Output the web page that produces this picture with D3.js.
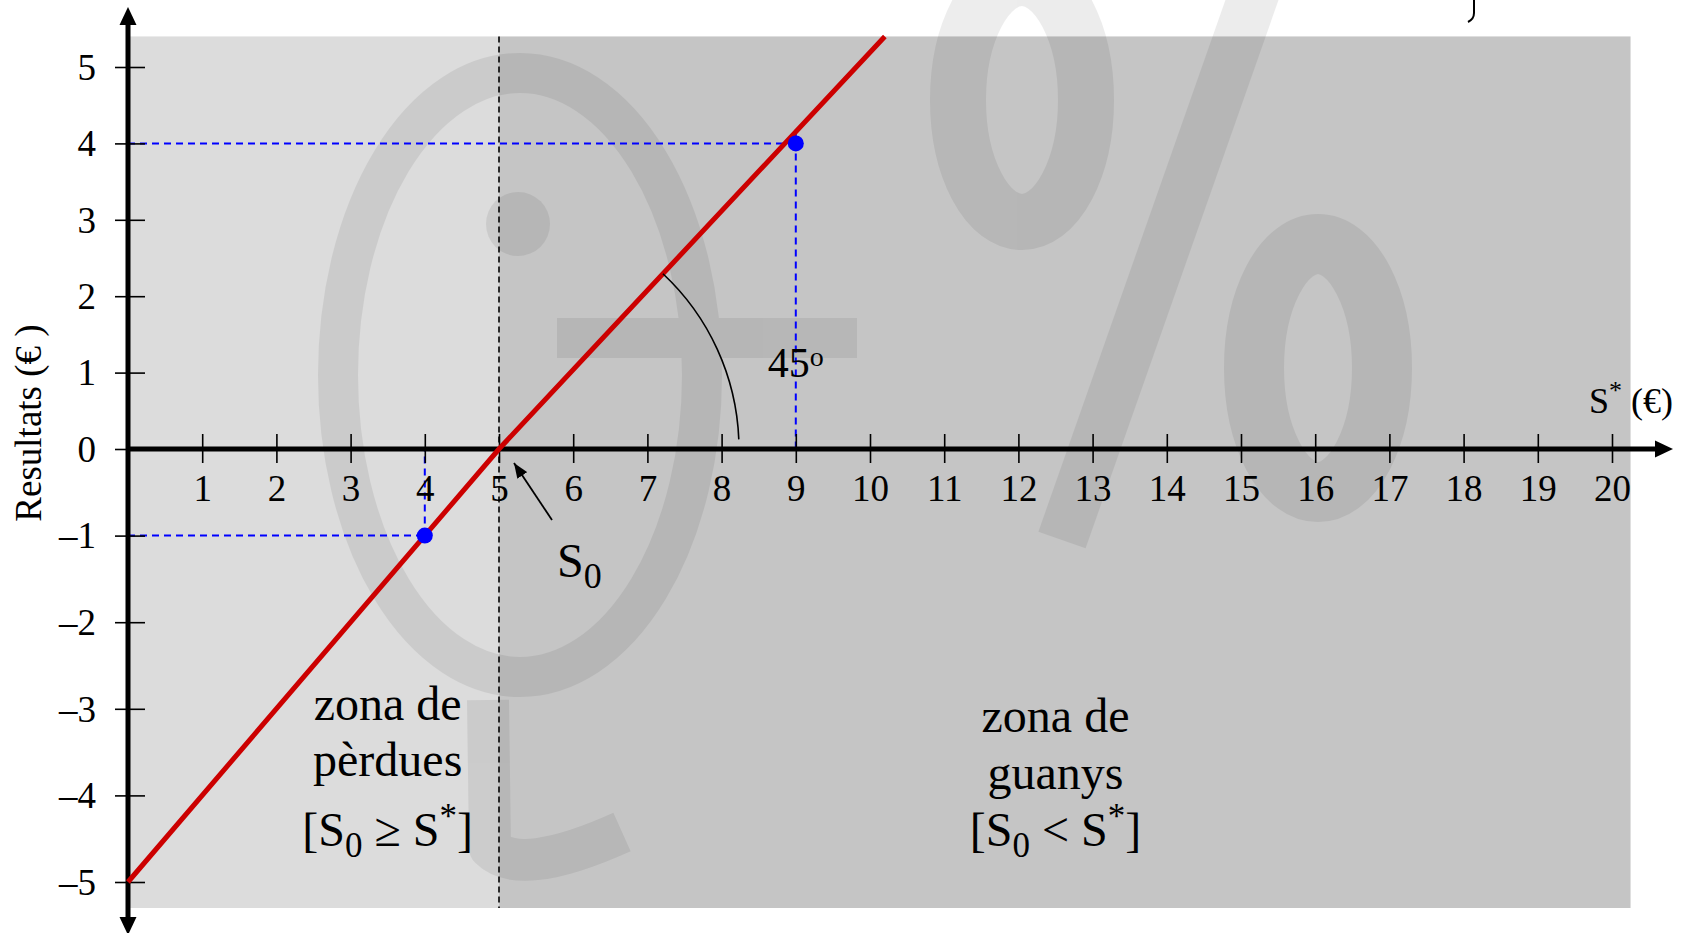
<!DOCTYPE html>
<html>
<head>
<meta charset="utf-8">
<script src="https://cdn.jsdelivr.net/npm/d3@7"></script>
<style>
  html, body { margin: 0; padding: 0; background: #fff; }
  svg { display: block; }
  text { font-family: "Liberation Serif", "Times New Roman", serif; fill: #000; }
</style>
</head>
<body>
<svg id="chart" width="1684" height="933"></svg>
<script>
// Break-even diagram: result of a position as a function of the price S*
const xTickValues = [1, 2, 3, 4, 5, 6, 7, 8, 9, 10, 11, 12, 13, 14, 15, 16, 17, 18, 19, 20];
const yTickValues = [-5, -4, -3, -2, -1, 0, 1, 2, 3, 4, 5];
const yTickLabels = ["\u20135", "\u20134", "\u20133", "\u20132", "\u20131", "0", "1", "2", "3", "4", "5"];

const breakEven = 5;                 // S0
const resultS = [0, 5, 10.2];        // S* along the result line
const resultValue = [-5, 0, 5.4];    // result at those prices
const markedS = [4, 9];              // highlighted prices
const markedValue = [-1, 4];         // result at the highlighted prices

const lossLines = ["zona de", "p\u00e8rdues"];
const gainLines = ["zona de", "guanys"];

const svg = d3.select("#chart");

// scales
const x = d3.scaleLinear().domain([0, 20]).range([128, 1612]);
const y = d3.scaleLinear().domain([-5, 0, 5]).range([882, 449, 67]);
const xEnd = 20.25, yTop = 5.4, yBottom = -5.3;

// shaded zones
svg.append("rect")
  .attr("x", x(0)).attr("y", y(yTop))
  .attr("width", x(breakEven) - x(0)).attr("height", y(yBottom) - y(yTop))
  .attr("fill", "#dcdcdc");
svg.append("rect")
  .attr("x", x(breakEven)).attr("y", y(yTop))
  .attr("width", x(xEnd) - x(breakEven)).attr("height", y(yBottom) - y(yTop))
  .attr("fill", "#c5c5c5");

// faint background emblem
const emblem = svg.append("g").attr("opacity", 0.07).attr("fill", "none").attr("stroke", "#000");
emblem.append("ellipse").attr("cx", 520).attr("cy", 375).attr("rx", 182).attr("ry", 302).attr("stroke-width", 40);
emblem.append("circle").attr("cx", 518).attr("cy", 224).attr("r", 32).attr("fill", "#000").attr("stroke", "none");
emblem.append("rect").attr("x", 557).attr("y", 318).attr("width", 300).attr("height", 40).attr("fill", "#000").attr("stroke", "none");
emblem.append("path").attr("d", "M488,700 L490,848 Q520,878 622,832")
  .attr("stroke-width", 42).attr("stroke-linejoin", "round");
emblem.append("ellipse").attr("cx", 1022).attr("cy", 100).attr("rx", 64).attr("ry", 122).attr("stroke-width", 56);
emblem.append("line").attr("x1", 1259).attr("y1", -20).attr("x2", 1062).attr("y2", 540).attr("stroke-width", 50);
emblem.append("ellipse").attr("cx", 1318).attr("cy", 368).attr("rx", 64).attr("ry", 124).attr("stroke-width", 60);

// S0 divider
svg.append("line")
  .attr("x1", x(breakEven)).attr("x2", x(breakEven))
  .attr("y1", y(yTop)).attr("y2", y(yBottom))
  .attr("stroke", "#000").attr("stroke-width", 1.6).attr("stroke-dasharray", "6,4");

// guide lines for the highlighted points
const guides = svg.append("g").attr("stroke", "#0000ff").attr("stroke-width", 2)
  .attr("stroke-dasharray", "7,5").attr("fill", "none");
markedS.forEach((s, i) => {
  const v = markedValue[i];
  guides.append("line").attr("x1", x(0)).attr("x2", x(s)).attr("y1", y(v)).attr("y2", y(v));
  guides.append("line").attr("x1", x(s)).attr("x2", x(s))
    .attr("y1", y(v) - (v > 0 ? 14 : 0)).attr("y2", y(0));
});

// x axis ticks and labels
const xAxis = svg.append("g")
  .attr("transform", `translate(0,${y(0)})`)
  .call(d3.axisBottom(x).tickValues(xTickValues).tickSize(0).tickFormat(d3.format("d")));
xAxis.select(".domain").remove();
xAxis.attr("font-family", "Liberation Serif, serif").attr("font-size", 37);
xAxis.selectAll(".tick line").attr("y1", -15).attr("y2", 14).attr("stroke", "#000").attr("stroke-width", 1.6);
xAxis.selectAll(".tick text").attr("y", 52).attr("dy", 0).attr("fill", "#000");

// y axis ticks and labels
const yAxis = svg.append("g")
  .attr("transform", `translate(${x(0)},0)`)
  .call(d3.axisLeft(y).tickValues(yTickValues).tickSize(0)
    .tickFormat((d, i) => yTickLabels[i]));
yAxis.select(".domain").remove();
yAxis.attr("font-family", "Liberation Serif, serif").attr("font-size", 37);
yAxis.selectAll(".tick line").attr("x1", -13).attr("x2", 17).attr("stroke", "#000").attr("stroke-width", 1.6);
yAxis.selectAll(".tick text").attr("x", -32).attr("dy", "0.33em").attr("fill", "#000");

// heavy axis lines with arrowheads
const axisW = 5;
const xTip = 1673, yTipTop = 7, yTipBottom = 935;
svg.append("line").attr("x1", x(0)).attr("x2", xTip - 14).attr("y1", y(0)).attr("y2", y(0))
  .attr("stroke", "#000").attr("stroke-width", axisW);
svg.append("path").attr("d", `M${xTip - 18},${y(0) - 8.5} L${xTip},${y(0)} L${xTip - 18},${y(0) + 8.5} Z`).attr("fill", "#000");
svg.append("line").attr("x1", x(0)).attr("x2", x(0)).attr("y1", yTipTop + 14).attr("y2", yTipBottom - 14)
  .attr("stroke", "#000").attr("stroke-width", axisW);
svg.append("path").attr("d", `M${x(0) - 8.5},${yTipTop + 18} L${x(0)},${yTipTop} L${x(0) + 8.5},${yTipTop + 18} Z`).attr("fill", "#000");
svg.append("path").attr("d", `M${x(0) - 8.5},${yTipBottom - 18} L${x(0)},${yTipBottom} L${x(0) + 8.5},${yTipBottom - 18} Z`).attr("fill", "#000");

// result line
const resultLine = d3.line().x(i => x(resultS[i])).y(i => y(resultValue[i]));
svg.append("path")
  .attr("d", resultLine(d3.range(resultS.length)))
  .attr("fill", "none").attr("stroke", "#cc0000").attr("stroke-width", 5);

// highlighted points
svg.selectAll("circle.mark").data(d3.range(markedS.length)).join("circle")
  .attr("class", "mark")
  .attr("cx", i => x(markedS[i])).attr("cy", i => y(markedValue[i]))
  .attr("r", 8).attr("fill", "#0000ff");

// 45 degree angle arc
const cx0 = x(breakEven), cy0 = y(0);
const lastI = resultS.length - 1;
const theta = Math.atan2(y(resultValue[lastI]) - cy0, x(resultS[lastI]) - cx0);
const arcPath = d3.path();
arcPath.arc(cx0, cy0, 240, -0.04, theta, true);
svg.append("path").attr("d", arcPath.toString())
  .attr("fill", "none").attr("stroke", "#000").attr("stroke-width", 1.6);

const angleLabel = svg.append("text").attr("x", x(9) - 28).attr("y", 377).attr("font-size", 42);
angleLabel.append("tspan").text("45");
angleLabel.append("tspan").attr("font-size", 28).attr("dy", -11).text("o");

// S0 pointer
const defs = svg.append("defs");
defs.append("marker").attr("id", "head")
  .attr("markerUnits", "userSpaceOnUse")
  .attr("markerWidth", 15).attr("markerHeight", 12)
  .attr("refX", 15).attr("refY", 6).attr("orient", "auto")
  .append("path").attr("d", "M0,0 L15,6 L0,12 Z").attr("fill", "#000");
svg.append("line")
  .attr("x1", cx0 + 53).attr("y1", cy0 + 71)
  .attr("x2", cx0 + 15).attr("y2", cy0 + 14)
  .attr("stroke", "#000").attr("stroke-width", 1.8).attr("marker-end", "url(#head)");
const s0Label = svg.append("text").attr("x", cx0 + 58).attr("y", 577).attr("font-size", 48);
s0Label.append("tspan").text("S");
s0Label.append("tspan").attr("font-size", 36).attr("dy", 11).text("0");

// axis titles
svg.append("text")
  .attr("transform", "translate(41,423) rotate(-90)")
  .attr("text-anchor", "middle").attr("font-size", 37)
  .text("Resultats (\u20ac )");

const sTitle = svg.append("text").attr("x", xTip).attr("y", 413)
  .attr("text-anchor", "end").attr("font-size", 36);
sTitle.append("tspan").text("S");
sTitle.append("tspan").attr("font-size", 26).attr("dy", -14).text("*");
sTitle.append("tspan").attr("dy", 14).text(" (\u20ac)");

// zone captions
function zoneCaption(cxPos, lines, relation, baselines) {
  lines.forEach((t, i) => {
    svg.append("text").attr("x", cxPos).attr("y", baselines[i])
      .attr("text-anchor", "middle").attr("font-size", 48).text(t);
  });
  const t = svg.append("text").attr("x", cxPos).attr("y", baselines[2])
    .attr("text-anchor", "middle").attr("font-size", 48);
  t.append("tspan").text("[S");
  t.append("tspan").attr("font-size", 35).attr("dy", 11).text("0");
  t.append("tspan").attr("dy", -11).text(` ${relation} S`);
  t.append("tspan").attr("font-size", 35).attr("dy", -18).text("*");
  t.append("tspan").attr("dy", 18).text("]");
}
zoneCaption(x(3.5), lossLines, "\u2265", [720, 776, 846]);
zoneCaption(x(12.5), gainLines, "<", [732, 789, 846]);

// clipped stroke of a caption above the frame
svg.append("path").attr("d", "M1474,0 L1474,13 Q1474,19 1468,22")
  .attr("fill", "none").attr("stroke", "#000").attr("stroke-width", 2);
</script>
</body>
</html>
